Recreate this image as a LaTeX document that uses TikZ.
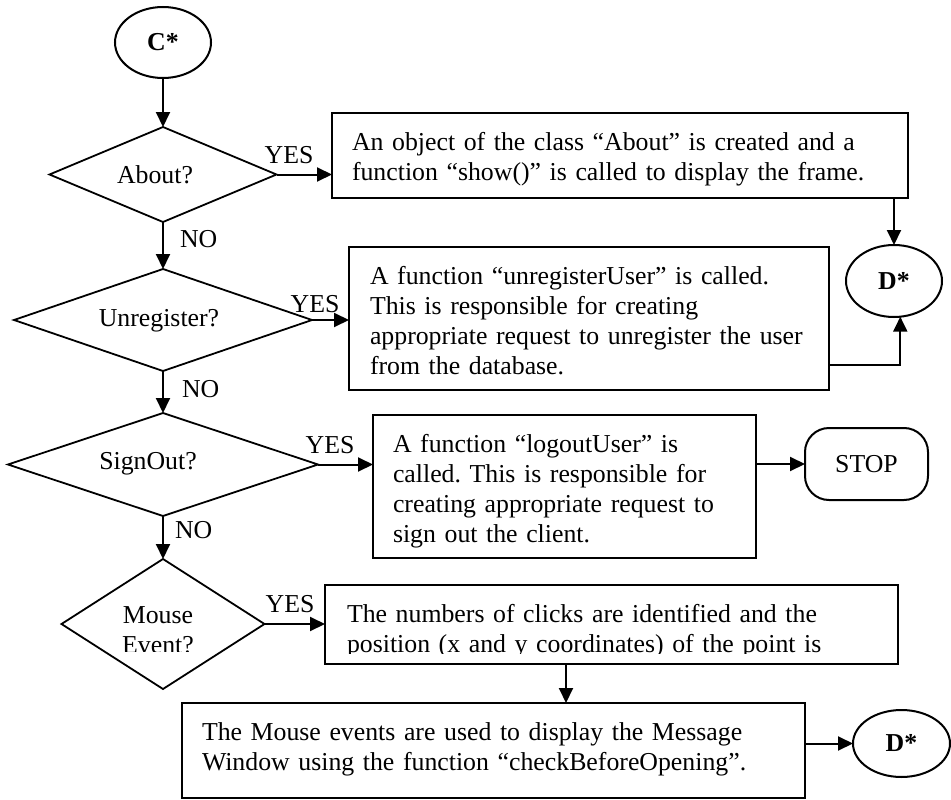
\documentclass[tikz,border=0pt]{standalone}
\usepackage{fontspec}
\setmainfont{Liberation Serif}
\usetikzlibrary{shapes.geometric,arrows.meta,calc}
\frenchspacing

\begin{document}
\begin{tikzpicture}[x=1pt,y=-1pt,
  font=\fontsize{25.8}{30}\selectfont,
  every node/.style={inner sep=0pt,outer sep=0pt},
  decision/.style n args={2}{diamond,draw,line width=1.8pt,minimum width=#1,minimum height=#2},
  connector/.style={ellipse,draw,line width=2pt,font=\fontsize{25.8}{30}\selectfont\bfseries},
  process/.style n args={2}{rectangle,draw,line width=2.4pt,anchor=north west,minimum width=#1,minimum height=#2},
  proctext/.style={anchor=base west,align=left,text width=#1},
  terminal/.style={rectangle,draw,line width=2pt,rounded corners=24pt,minimum width=123,minimum height=72},
  answer/.style={anchor=base},
  flow/.style={line width=2pt,-{Triangle[length=15pt,width=14pt]}}]
\useasboundingbox (0,0) rectangle (951,800);

% entry connector
\node[connector,minimum width=96,minimum height=71] (cstar) at (163,42.5) {C*};

% decisions
\node[decision={227}{95}] (about) at (163,174.5) {};
\node[answer] (aboutlbl) at (155,183) {About?};
\node[decision={298}{102}] (unreg) at (163,320) {};
\node[answer] (unreglbl) at (159,326) {Unregister?};
\node[decision={310}{103}] (signout) at (163,464.5) {};
\node[answer] (signoutlbl) at (148,469) {SignOut?};
\node[decision={203}{130}] (mouse) at (163,624) {};
\begin{scope}
  \clip (60,559) rectangle (263,651);
  \node[anchor=base,align=center,text width=140] (mouselbl) at (158,623) {Mouse\\Event?};
\end{scope}

% process boxes
\node[process={576}{85}] (b1) at (332,113) {};
\node[proctext=550] (t1) at ($(b1.north west)+(20,37)$)
  {An object of the class “About” is created and a\\function “show()” is called to display the frame.};

\node[process={480}{143}] (b2) at (349,247) {};
\node[proctext=460] (t2) at ($(b2.north west)+(21,37)$)
  {A function “unregisterUser” is called.\\This is responsible for creating\\appropriate request to unregister the user\\from the database.};

\node[process={383}{143}] (b3) at (373,415) {};
\begin{scope}
  \clip (b3.north west) rectangle ($(b3.south east)+(0,-11)$);
  \node[proctext=370] (t3) at ($(b3.north west)+(20,37)$)
    {A function “logoutUser” is\\called. This is responsible for\\creating appropriate request to\\sign out the client.};
\end{scope}

\node[process={573}{79}] (b4) at (325,585) {};
\begin{scope}
  \clip (b4.north west) rectangle ($(b4.south east)+(0,-11)$);
  \node[proctext=560] (t4) at ($(b4.north west)+(22,37)$)
    {The numbers of clicks are identified and the\\position (x and y coordinates) of the point is};
\end{scope}

\node[process={623}{95}] (b5) at (182,703) {};
\node[proctext=600] (t5) at ($(b5.north west)+(20,37)$)
  {The Mouse events are used to display the Message\\Window using the function “checkBeforeOpening”.};

% exits
\node[connector,minimum width=96,minimum height=72] (dA) at (894,281) {D*};
\node[terminal] (stop) at (866.5,464) {STOP};
\node[connector,minimum width=97,minimum height=67] (dB) at (901.5,743.5) {D*};

% branch labels
\node[answer] (yes1) at (289,163) {YES};
\node[answer] (yes2) at (315,312) {YES};
\node[answer] (yes3) at (330,453) {YES};
\node[answer] (yes4) at (290,612) {YES};
\node[anchor=base west] (no1) at (180,247) {NO};
\node[anchor=base west] (no2) at (182,397) {NO};
\node[anchor=base west] (no3) at (175,538) {NO};

% main flow
\draw[flow] (cstar.south) -- (about.north);
\draw[flow] (about.south) -- (unreg.north);
\draw[flow] (unreg.south) -- (signout.north);
\draw[flow] (signout.south) -- (mouse.north);

% yes branches
\draw[flow] (about.east) -- (about.east -| b1.west);
\draw[flow] (unreg.east) -- (unreg.east -| b2.west);
\draw[flow] (signout.east) -- (signout.east -| b3.west);
\draw[flow] (mouse.east) -- (mouse.east -| b4.west);

% onward connections
\draw[flow] (b1.south -| dA.north) -- (dA.north);
\draw[flow] ($(b2.south east)+(0,-25)$) -| (dA.-80);
\draw[flow] (stop.west -| b3.east) -- (stop.west);
\coordinate (drop) at (566,0);
\draw[flow] (b4.south -| drop) -- (b5.north -| drop);
\draw[flow] (dB.west -| b5.east) -- (dB.west);
\end{tikzpicture}
\end{document}
